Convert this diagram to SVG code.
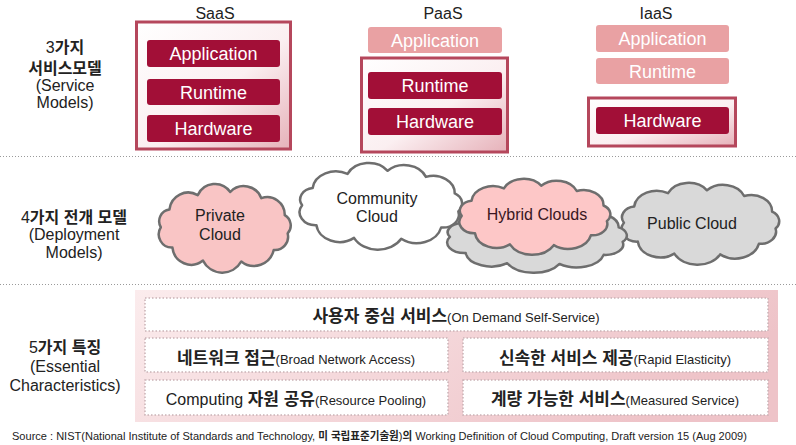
<svg xmlns="http://www.w3.org/2000/svg" xmlns:xlink="http://www.w3.org/1999/xlink" width="796" height="445" viewBox="0 0 796 445">
<style>
text{font-family:"Liberation Sans","Noto Sans CJK KR",sans-serif;fill:#222}
.lbl{font-size:16px;text-anchor:middle}
.kb{font-weight:bold}
.bar{font-size:18px;fill:#fff;text-anchor:middle}
.dark{fill:#a20f37}
.light{fill:#e9a1a3}
.frame{fill:url(#fg);stroke:#b5475c;stroke-width:3}
.sep{stroke:#9a9a9a;stroke-width:1;stroke-dasharray:1 2}
.row{fill:#fff;stroke:#c9b3b6;stroke-width:1.5;stroke-dasharray:1.5 2}
.rt{font-size:17px;text-anchor:middle}
.en{font-size:13px;font-weight:normal}
.cl{font-size:16px;text-anchor:middle}
.src{font-size:11.5px}
</style>
<defs>
<linearGradient id="fg" x1="0" y1="0" x2="1" y2="1">
<stop offset="0" stop-color="#ffffff"/>
<stop offset="0.55" stop-color="#fbeff1"/>
<stop offset="1" stop-color="#e6b1b9"/>
</linearGradient>
<linearGradient id="bg" x1="0" y1="0" x2="1" y2="0.3">
<stop offset="0" stop-color="#fbeced"/>
<stop offset="1" stop-color="#eec3c8"/>
</linearGradient>
<path id="cloud" stroke="#6e6e6e" stroke-width="2.5" vector-effect="non-scaling-stroke" stroke-linejoin="round" d="M6,30 A8,8 0 0 1 11.9,18 A13,13 0 0 1 31.4,8.25 A13,13 0 0 1 53.8,6.1 A13,13 0 0 1 75.2,10.3 A12,12 0 0 1 91.3,21.8 A8,8 0 0 1 93.3,34.2 A9,9 0 0 1 83.7,45.4 A14,14 0 0 1 61.4,53.2 A15,15 0 0 1 35,52.6 A13,13 0 0 1 14,43.8 A9,9 0 0 1 6,30 Z"/>
</defs>
<rect width="796" height="445" fill="#fff"/>

<g id="separators">
<line class="sep" x1="0" y1="156.5" x2="796" y2="156.5"/>
<line class="sep" x1="0" y1="284.5" x2="796" y2="284.5"/>
</g>

<g id="label-service">
<text class="lbl" x="65" y="53">3<tspan class="kb">가지</tspan></text>
<text class="lbl kb" x="65" y="74">서비스모델</text>
<text class="lbl" x="65" y="91">(Service</text>
<text class="lbl" x="65" y="108">Models)</text>
</g>

<g id="saas">
<text class="lbl" x="215" y="18.5">SaaS</text>
<rect class="frame" x="136.5" y="22" width="154" height="127"/>
<rect class="dark" x="147" y="40" width="133" height="27" rx="3"/>
<text class="bar" x="213.5" y="60">Application</text>
<rect class="dark" x="147" y="79" width="133" height="26" rx="3"/>
<text class="bar" x="213.5" y="98.5">Runtime</text>
<rect class="dark" x="147" y="115" width="133" height="27" rx="3"/>
<text class="bar" x="213.5" y="135">Hardware</text>
</g>

<g id="paas">
<text class="lbl" x="443" y="18.5">PaaS</text>
<rect class="light" x="368" y="27" width="134" height="26" rx="3"/>
<text class="bar" x="435" y="46.5">Application</text>
<rect class="frame" x="361.5" y="58" width="146" height="94"/>
<rect class="dark" x="368" y="72" width="134" height="27" rx="3"/>
<text class="bar" x="435" y="92">Runtime</text>
<rect class="dark" x="368" y="108" width="134" height="27" rx="3"/>
<text class="bar" x="435" y="128">Hardware</text>
</g>

<g id="iaas">
<text class="lbl" x="656" y="18.5">IaaS</text>
<rect class="light" x="596" y="25" width="133" height="27" rx="3"/>
<text class="bar" x="662.5" y="45">Application</text>
<rect class="light" x="596" y="58" width="133" height="26" rx="3"/>
<text class="bar" x="662.5" y="77.5">Runtime</text>
<rect class="frame" x="588.5" y="98" width="147" height="48"/>
<rect class="dark" x="596" y="107" width="133" height="27" rx="3"/>
<text class="bar" x="662.5" y="127">Hardware</text>
</g>

<g id="label-deploy">
<text class="lbl kb" x="74" y="223"><tspan font-weight="normal">4</tspan>가지 전개 모델</text>
<text class="lbl" x="74" y="240">(Deployment</text>
<text class="lbl" x="74" y="258">Models)</text>
</g>

<g id="private-cloud">
<use xlink:href="#cloud" href="#cloud" fill="#f9c5c5" transform="translate(152.1,183) scale(1.453,1.475)"/>
<text class="cl" x="220" y="221" fill="#333">Private</text>
<text class="cl" x="220" y="240" fill="#333">Cloud</text>
</g>

<g id="community-cloud">
<use xlink:href="#cloud" href="#cloud" fill="#ffffff" transform="translate(291.4,162) scale(1.789,1.443)"/>
<text class="cl" x="377" y="204">Community</text>
<text class="cl" x="377" y="222">Cloud</text>
</g>

<g id="public-cloud">
<use xlink:href="#cloud" href="#cloud" fill="#d9d9d9" transform="translate(613.5,182) scale(1.737,1.361)"/>
<text class="cl" x="692" y="229">Public Cloud</text>
</g>

<g id="hybrid-clouds">
<use xlink:href="#cloud" href="#cloud" fill="#d9d9d9" transform="translate(438,202) scale(1.979,1.164)"/>
<use xlink:href="#cloud" href="#cloud" fill="#fdc7c7" transform="translate(451.7,178) scale(1.663,1.262)"/>
<text class="cl" x="537" y="220" style="fill:#3a1622">Hybrid Clouds</text>
</g>

<g id="label-essential">
<text class="lbl" x="65" y="353">5<tspan class="kb">가지 특징</tspan></text>
<text class="lbl" x="65" y="372">(Essential</text>
<text class="lbl" x="65" y="391">Characteristics)</text>
</g>

<g id="characteristics">
<rect x="135" y="290" width="643" height="132" fill="url(#bg)"/>
<g id="on-demand">
<rect class="row" x="145" y="298" width="623" height="33"/>
<text class="rt kb" x="456" y="322">사용자 중심 서비스<tspan class="en">(On Demand Self-Service)</tspan></text>
</g>
<g id="network">
<rect class="row" x="145" y="338" width="303" height="34"/>
<text class="rt kb" x="296" y="364">네트워크 접근<tspan class="en">(Broad Network Access)</tspan></text>
</g>
<g id="elasticity">
<rect class="row" x="463" y="338" width="305" height="34"/>
<text class="rt kb" x="615" y="364">신속한 서비스 제공<tspan class="en">(Rapid Elasticity)</tspan></text>
</g>
<g id="pooling">
<rect class="row" x="145" y="380" width="303" height="35"/>
<text class="rt kb" x="296" y="405"><tspan font-weight="normal" font-size="16">Computing </tspan>자원 공유<tspan class="en">(Resource Pooling)</tspan></text>
</g>
<g id="measured">
<rect class="row" x="463" y="380" width="305" height="35"/>
<text class="rt kb" x="615" y="405">계량 가능한 서비스<tspan class="en">(Measured Service)</tspan></text>
</g>
</g>

<g id="source" transform="translate(12,440) scale(0.96,1)">
<text class="src" x="0" y="0">Source : NIST(National Institute of Standards and Technology, <tspan class="kb" font-size="11">미 국립표준기술원</tspan>)<tspan class="kb" font-size="11">의</tspan> Working Definition of Cloud Computing, Draft version 15 (Aug 2009)</text>
</g>
</svg>
